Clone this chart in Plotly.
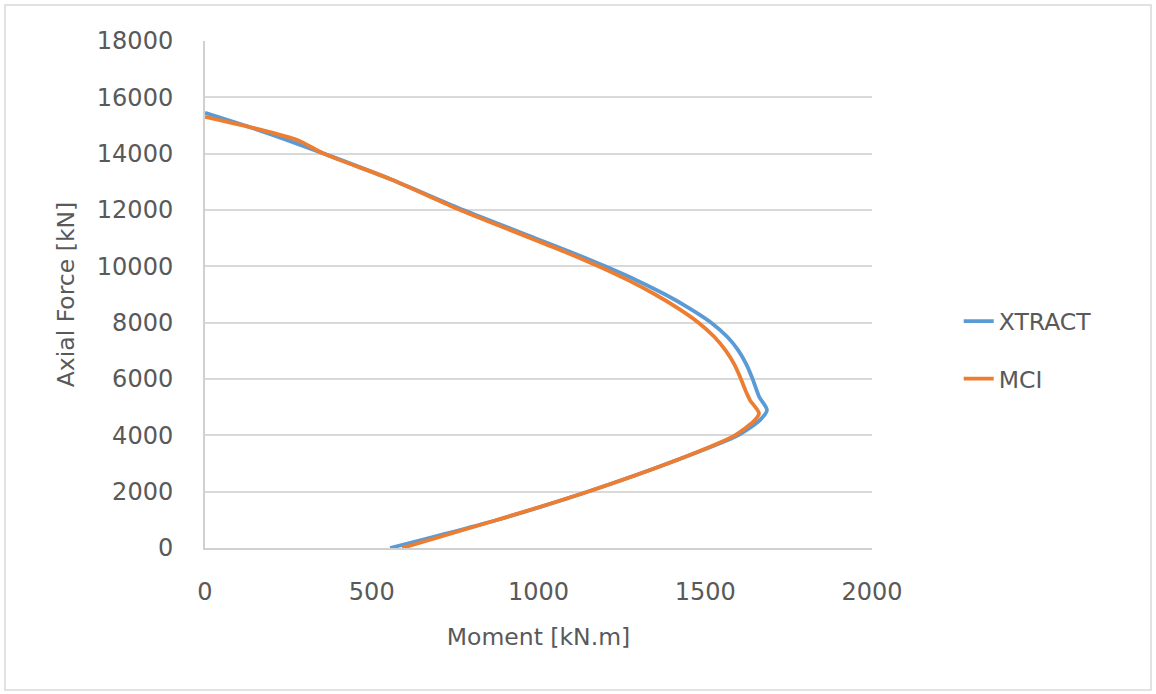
import plotly.graph_objects as go

xtract_moment = [0, 150, 300, 555, 775, 990, 1098, 1200, 1295, 1380, 1454, 1518, 1566, 1600, 1624, 1642, 1662, 1685, 1664, 1598, 1415, 1145, 875, 555]
xtract_axial = [15450, 14880, 14250, 13100, 12000, 11000, 10500, 10000, 9500, 9000, 8500, 8000, 7500, 7000, 6500, 6000, 5360, 4900, 4540, 4000, 3124, 1988, 994, 0]

mci_moment = [0, 150, 280, 354, 555, 765, 977, 1082, 1180, 1270, 1350, 1420, 1480, 1527, 1562, 1588, 1607, 1624, 1634, 1661, 1649, 1589, 1415, 1145, 875, 591]
mci_axial = [15310, 14900, 14470, 14010, 13100, 12000, 11000, 10500, 10000, 9500, 9000, 8500, 8000, 7500, 7000, 6500, 6000, 5500, 5250, 4790, 4540, 4000, 3124, 1988, 994, 0]

x_ticks = [0, 500, 1000, 1500, 2000]
y_ticks = list(range(0, 18001, 2000))

FONT = "DejaVu Sans"
GRAY = "#595959"

fig = go.Figure()
fig.add_trace(go.Scatter(x=xtract_moment, y=xtract_axial, mode="lines", name="XTRACT",
                         line=dict(color="#5B9BD5", width=3.8, shape="spline", smoothing=0.7),
                         legendgroup="a"))
fig.add_trace(go.Scatter(x=mci_moment, y=mci_axial, mode="lines", name="MCI",
                         line=dict(color="#ED7D31", width=3.8, shape="spline", smoothing=0.7),
                         legendgroup="b"))

fig.update_layout(
    width=1156, height=694,
    margin=dict(l=205, r=284, t=41, b=146),
    paper_bgcolor="white", plot_bgcolor="white",
    font=dict(family=FONT, size=23, color=GRAY),
    showlegend=True,
    legend=dict(x=1.13, y=0.39, xanchor="left", yanchor="middle",
                font=dict(family=FONT, size=23.5, color=GRAY),
                tracegroupgap=24, bgcolor="rgba(0,0,0,0)"),
    xaxis=dict(range=[0, 2000], tickvals=x_ticks, ticktext=[str(v) for v in x_ticks],
               tickfont=dict(size=24),
               showgrid=False, zeroline=False, showline=True, linecolor="#D0D0D0", linewidth=2,
               ticks="", ticklabelstandoff=21,
               title=dict(text="Moment [kN.m]", standoff=24, font=dict(size=23.5, color=GRAY))),
    yaxis=dict(range=[0, 18000], tickvals=y_ticks, ticktext=[str(v) for v in y_ticks],
               tickfont=dict(size=24),
               showgrid=True, gridcolor="#D9D9D9", gridwidth=2, zeroline=False,
               showline=True, linecolor="#D0D0D0", linewidth=2,
               ticks="", ticklabelstandoff=25,
               title=dict(text="Axial Force [kN]", standoff=16, font=dict(size=23.5, color=GRAY))),
)

fig.add_shape(type="rect", xref="paper", yref="paper",
              x0=-0.2999, x1=1.4183, y0=-0.280, y1=1.071,
              line=dict(color="#D9D9D9", width=1.5), fillcolor="rgba(0,0,0,0)", layer="below")

fig.write_html("out.html")
